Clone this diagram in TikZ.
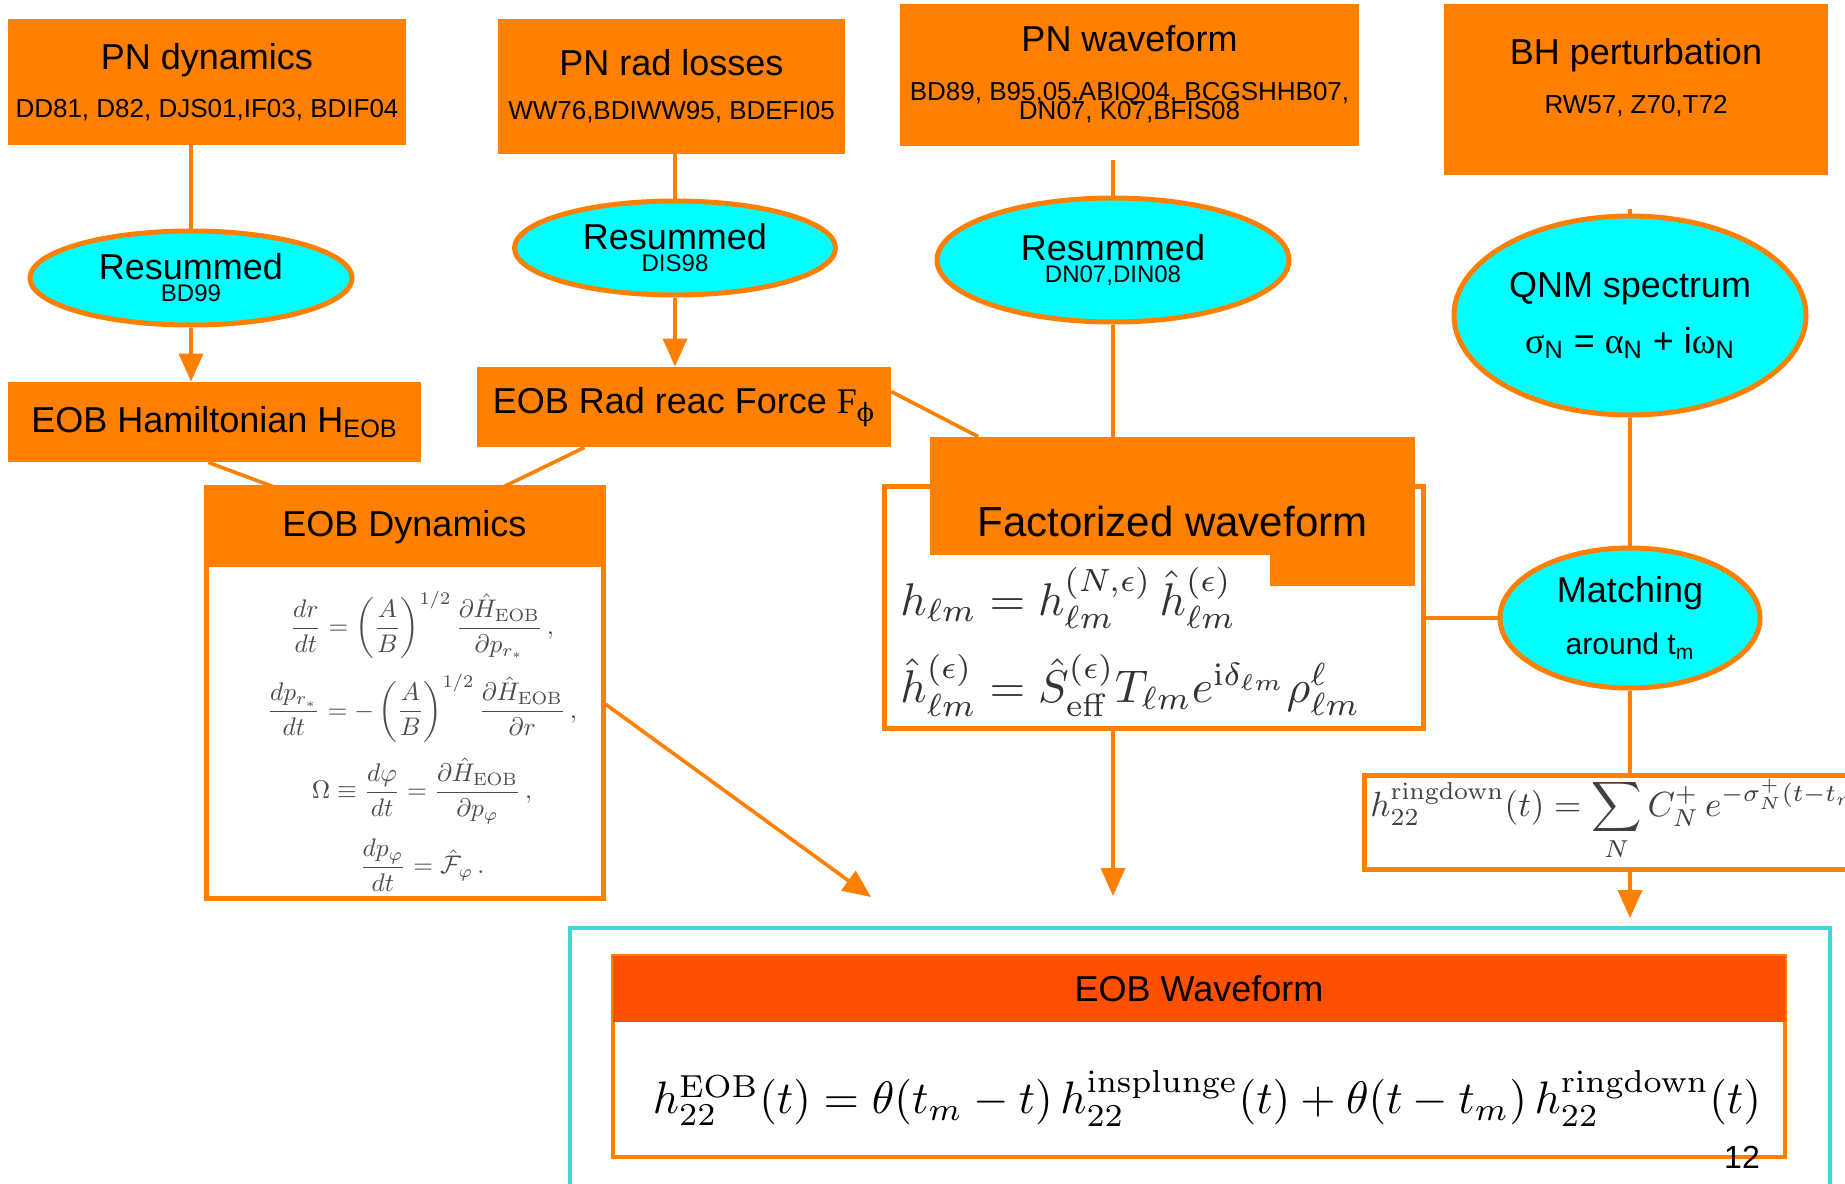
\documentclass[tikz,border=0pt]{standalone}
\usepackage{amsmath}
\usepackage[no-math]{fontspec}
\setmainfont{Liberation Sans}
\newfontfamily\greekfont{Liberation Serif}
\newfontfamily\phifont{DejaVu Serif}
\usetikzlibrary{shapes.geometric,arrows.meta,calc}

\definecolor{pnorange}{RGB}{255,127,0}
\definecolor{headorange}{RGB}{255,80,0}
\definecolor{panelteal}{RGB}{64,214,214}
\definecolor{qnmcyan}{RGB}{0,255,255}

\newcommand{\titlefont}{\fontsize{18}{22}\selectfont}
\newcommand{\reffont}{\fontsize{13}{13}\selectfont}
\newcommand{\subfont}{\fontsize{12}{12}\selectfont}

\begin{document}
\begin{tikzpicture}[x=0.5pt,y=-0.5pt,
    pnbox/.style={fill=pnorange, inner sep=0pt, align=center, font=\titlefont},
    resummed/.style={ellipse, draw=pnorange, line width=2.5pt, fill=qnmcyan,
        inner sep=0pt, align=center, font=\titlefont},
    eqbox/.style={draw=pnorange, line width=2.5pt, inner sep=0pt},
    link/.style={draw=pnorange, line width=1.8pt},
    feed/.style={link, -{Triangle[length=14pt,width=12pt]}}]
    \useasboundingbox (0,0) rectangle (1845,1183);
    \fill[white] (0,0) rectangle (1845,1183);
    \clip (0,0) rectangle (1845,1183);

    % PN inputs
    \draw (207,82) node(pnDyn) [pnbox, minimum width=199pt, minimum height=63pt]
        {PN dynamics\\[2pt]{\reffont DD81, D82, DJS01,IF03, BDIF04}};
    \draw (671.5,86.5) node(pnRad) [pnbox, minimum width=173.5pt, minimum height=67.5pt]
        {PN rad losses\\[0pt]{\reffont WW76,BDIWW95, BDEFI05}};
    \draw (1129.5,74.5) node(pnWave) [pnbox, minimum width=229.5pt, minimum height=71pt]
        {PN waveform\\[2.5pt]{\reffont BD89, B95,05,ABIQ04, BCGSHHB07,}\\[-12.5pt]{\reffont DN07, K07,BFIS08}};
    \draw (1636,89.5) node(bhPert) [pnbox, minimum width=192pt, minimum height=85.5pt, text depth=14pt]
        {BH perturbation\\[2.5pt]{\reffont RW57, Z70,T72}};

    % resummations
    \draw (191,278) node(res1) [resummed, minimum width=161pt, minimum height=47pt]
        {Resummed\\[-11pt]{\subfont BD99}};
    \draw (675,248) node(res2) [resummed, minimum width=160.5pt, minimum height=47pt]
        {Resummed\\[-11pt]{\subfont DIS98}};
    \draw (1113,260) node(res3) [resummed, minimum width=176pt, minimum height=62pt]
        {Resummed\\[-11pt]{\subfont DN07,DIN08}};
    \draw (1630,315.5) node(qnm) [resummed, minimum width=176pt, minimum height=99.5pt]
        {QNM spectrum\\[6pt]{\greekfont σ}\textsubscript{N} = {\greekfont α}\textsubscript{N} + i{\greekfont ω}\textsubscript{N}};
    \draw (1630,618) node(matching) [resummed, minimum width=130pt, minimum height=70pt]
        {Matching\\[4pt]{\fontsize{15}{15}\selectfont around t\textsubscript{m}}};

    % EOB ingredients
    \draw (214.5,422) node(ham) [pnbox, minimum width=206.5pt, minimum height=40pt]
        {EOB Hamiltonian H\textsubscript{EOB}};
    \draw (684,407) node(rad) [pnbox, minimum width=207pt, minimum height=40pt]
        {EOB Rad reac Force {\greekfont F}\textsubscript{\phifont ϕ}};

    \draw (404.5,692.5) node(dynBox) [eqbox, minimum width=198.5pt, minimum height=205.5pt] {};
    \draw (404.5,527) node(dynHead) [pnbox, minimum width=198.5pt, minimum height=40pt] {EOB Dynamics};
    \draw (422,741) node(dynEq) [inner sep=0pt, text=black!70]
        {\resizebox{155pt}{!}{$\displaystyle\begin{gathered}
            \frac{dr}{dt} = \left(\frac{A}{B}\right)^{1/2} \frac{\partial \hat{H}_{\mathrm{EOB}}}{\partial p_{r_*}}\,, \\[2pt]
            \frac{dp_{r_*}}{dt} = -\left(\frac{A}{B}\right)^{1/2} \frac{\partial \hat{H}_{\mathrm{EOB}}}{\partial r}\,, \\[2pt]
            \Omega \equiv \frac{d\varphi}{dt} = \frac{\partial \hat{H}_{\mathrm{EOB}}}{\partial p_\varphi}\,, \\[2pt]
            \frac{dp_\varphi}{dt} = \hat{\mathcal{F}}_\varphi\,.
        \end{gathered}$}};

    \draw (1153.5,607) node(facBox) [eqbox, minimum width=269.5pt, minimum height=121pt] {};
    \draw (1172.5,496) node(facHead) [pnbox, minimum width=242.5pt, minimum height=59pt,
        font=\fontsize{21}{25}\selectfont, text height=44pt, text depth=4pt] {Factorized waveform};
    \fill[pnorange] (1270,553) rectangle (1415,586);
    \draw (900,643) node(facEq) [anchor=west, inner sep=0pt, text=black!80]
        {\resizebox{230pt}{!}{$\begin{array}{@{}l@{}}
            h_{\ell m} = h^{(N,\epsilon)}_{\ell m}\,\hat{h}^{(\epsilon)}_{\ell m} \\[5pt]
            \hat{h}^{(\epsilon)}_{\ell m} = \hat{S}^{(\epsilon)}_{\mathrm{eff}} T_{\ell m} e^{\mathrm{i}\delta_{\ell m}} \rho^{\ell}_{\ell m}
        \end{array}$}};

    \draw (1612,822) node(rdBox) [eqbox, minimum width=248pt, minimum height=47pt] {};
    \draw (1370,820) node(rdEq) [anchor=west, inner sep=0pt, text=black!75]
        {\scalebox{1.75}{$\displaystyle h^{\mathrm{ringdown}}_{22}(t) = \sum_N C^+_N\, e^{-\sigma^+_N (t-t_m)}$}};

    % EOB waveform panel
    \draw (1200,1064) node(eobPanel) [draw=panelteal, line width=2pt, minimum width=630pt, minimum height=136pt] {};
    \draw (1199,1056.5) node(eobBody) [eqbox, line width=2pt, minimum width=586pt, minimum height=100.5pt] {};
    \draw (1199,989) node(eobHead) [pnbox, fill=headorange, minimum width=586pt, minimum height=33pt] {EOB Waveform};
    \draw (1207,1098) node(eobEq) [inner sep=0pt]
        {\resizebox{554pt}{!}{$h^{\mathrm{EOB}}_{22}(t) = \theta(t_m - t)\, h^{\mathrm{insplunge}}_{22}(t) + \theta(t-t_m)\, h^{\mathrm{ringdown}}_{22}(t)$}};
    \draw (1742,1157) node(slideNo) [font=\fontsize{16}{16}\selectfont] {12};

    % connectors
    \coordinate (dynTip) at (871,897);
    \draw[link] (pnDyn.south -| res1.north) -- (res1.north);
    \draw[feed] (res1.south) -- (ham.north -| res1.south);
    \draw[link] (pnRad.south -| res2.north) -- (res2.north);
    \draw[feed] (res2.south) -- (rad.north -| res2.south);
    \draw[link, shorten <=7pt] (pnWave.south -| res3.north) -- (res3.north);
    \draw[link] (res3.south) -- (facHead.north -| res3.south);
    \draw[link, shorten <=17pt] (bhPert.south -| qnm.north) -- (qnm.north);
    \draw[link] (qnm.south) -- (matching.north);
    \draw[link] (matching.south) -- (rdBox.north -| matching.south);
    \draw[feed, shorten >=4pt] (rdBox.south -| matching.south) -- (eobPanel.north -| matching.south);
    \draw[link] (matching.west) -- (facBox.east |- matching.west);
    \draw[feed, shorten >=15pt] (facBox.south -| res3.south) -- (eobPanel.north -| res3.south);
    \draw[feed] ($(dynBox.north east)!0.528!(dynBox.south east)$) -- (dynTip);
    \draw[link] ($(ham.south west)!0.485!(ham.south east)$) -- ($(dynHead.north west)!0.17!(dynHead.north east)$);
    \draw[link] ($(rad.south west)!0.26!(rad.south east)$) -- ($(dynHead.north west)!0.75!(dynHead.north east)$);
    \draw[link] ($(rad.north east)!0.31!(rad.south east)$) -- ($(facHead.north west)!0.1!(facHead.north east)$);
\end{tikzpicture}
\end{document}
